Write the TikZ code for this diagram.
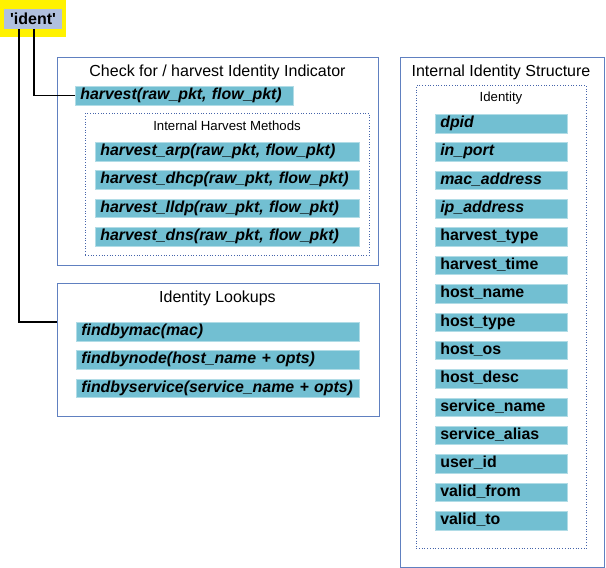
\documentclass[tikz,border=0pt]{standalone}
\usepackage{fontspec}
\setmainfont{Liberation Sans}
\usetikzlibrary{positioning}
\definecolor{barcol}{RGB}{114,191,210}
\definecolor{framecol}{RGB}{96,128,192}
\definecolor{groupcol}{RGB}{70,100,170}
\definecolor{keycol}{RGB}{176,192,222}

\begin{document}
\begin{tikzpicture}[x=1pt,y=-1pt,
   frame/.style={draw=framecol,line width=1pt,anchor=north west,inner sep=0pt},
   group/.style={draw=groupcol,dotted,line width=0.7pt,anchor=north west,inner sep=0pt},
   title/.style={font=\fontsize{16}{19}\selectfont},
   subtitle/.style={font=\fontsize{13.2}{16}\selectfont},
   bar/.style={fill=barcol,draw=barcol!55!white,line width=0.6pt,anchor=north west,
      inner xsep=5pt,inner ysep=0pt,minimum height=18.5pt,text width=#1,align=left,
      text height=11.5pt,text depth=3.5pt,font=\bfseries\itshape\fontsize{15.9}{18}\selectfont},
   field/.style={bar=122pt,font=\bfseries\fontsize{15.9}{18}\selectfont},
   link/.style={line width=1.8pt}]
\useasboundingbox (0,0) rectangle (606,568);
% the 'ident' key
\node[fill=yellow,anchor=north west,inner sep=0pt,minimum width=66pt,minimum height=37pt] (keybg) at (0,0) {};
\node[fill=keycol,inner sep=0pt,minimum width=58pt,minimum height=20pt,
   font=\bfseries\fontsize{16}{18}\selectfont] (key) at (33,19) {\textquotesingle ident\textquotesingle};
% check for / harvest
\node[frame,minimum width=321pt,minimum height=208pt] (check) at (57,57) {};
\node[title] (checktitle) at (217.5,72) {Check for / harvest Identity Indicator};
\node[bar=208pt] (harvest) at (75,86) {harvest(raw\_pkt, flow\_pkt)};
\node[group,minimum width=284pt,minimum height=142pt] (methods) at (85,113) {};
\node[subtitle] (methodstitle) at (227,126) {Internal Harvest Methods};
\node[bar=254pt] (arp) at (95,142) {harvest\_arp(raw\_pkt, flow\_pkt)};
\node[bar=254pt] (dhcp) at (95,170.4) {harvest\_dhcp(raw\_pkt, flow\_pkt)};
\node[bar=254pt] (lldp) at (95,198.8) {harvest\_lldp(raw\_pkt, flow\_pkt)};
\node[bar=254pt] (dns) at (95,227.2) {harvest\_dns(raw\_pkt, flow\_pkt)};
% lookups
\node[frame,minimum width=322pt,minimum height=133pt] (lookups) at (57,283) {};
\node[title] (lookupstitle) at (217.5,298) {Identity Lookups};
\node[bar=273pt] (bymac) at (76,322) {findbymac(mac)};
\node[bar=273pt] (bynode) at (76,350.3) {findbynode(host\_name + opts)};
\node[bar=273pt] (byservice) at (76,378.6) {findbyservice(service\_name + opts)};
% internal structure
\node[frame,minimum width=204pt,minimum height=510pt] (structure) at (400,57) {};
\node[title] (structuretitle) at (501,72) {Internal Identity Structure};
\node[group,minimum width=170pt,minimum height=463pt] (identity) at (416,85) {};
\node[subtitle] (identitytitle) at (501,98) {Identity};
\foreach \name [count=\i from 0] in {dpid,in\_port,mac\_address,ip\_address}
   \node[bar=122pt] (f\i) at (435,114+\i*28.36) {\name};
\foreach \name [count=\i from 4] in {harvest\_type,harvest\_time,host\_name,host\_type,
   host\_os,host\_desc,service\_name,service\_alias,user\_id,valid\_from,valid\_to}
   \node[field] (f\i) at (435,114+\i*28.36) {\name};
% connectors
\draw[link] ([xshift=1pt]key.south) |- (harvest.west);
\draw[link] ([xshift=-14pt]key.south) |- (lookups.west |- bymac.north);
\end{tikzpicture}
\end{document}
